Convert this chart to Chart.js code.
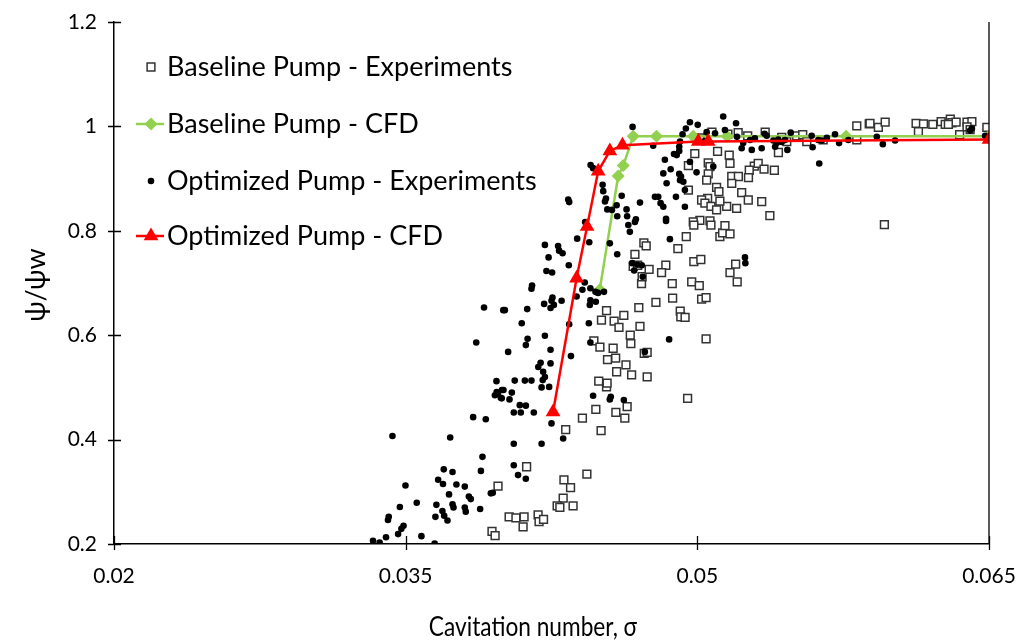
<!DOCTYPE html>
<html>
<head>
<meta charset="utf-8">
<script src="https://cdn.jsdelivr.net/npm/chart.js@4.4.0/dist/chart.umd.min.js"></script>
<style>
  html, body { margin: 0; padding: 0; background: #fff; }
  #wrap { width: 1019px; height: 644px; }
</style>
</head>
<body>
<div id="wrap"><canvas id="chart" width="1019" height="644"></canvas></div>
<script>
// ---- data ----
const xTickValues = [0.02, 0.035, 0.05, 0.065];
const xTickLabels = ['0.02', '0.035', '0.05', '0.065'];
const yTickValues = [0.2, 0.4, 0.6, 0.8, 1.0, 1.2];
const yTickLabels = ['0.2', '0.4', '0.6', '0.8', '1', '1.2'];

const seriesNames = [
  'Baseline Pump - Experiments',
  'Baseline Pump - CFD',
  'Optimized Pump - Experiments',
  'Optimized Pump - CFD'
];

// Baseline pump, experiments (open squares)
const baseExpSigma = [
  0.03975, 0.03944, 0.03960, 0.04493, 0.04533, 0.04478, 0.04581, 0.04627, 0.04639, 0.04409,
  0.04323, 0.04505, 0.04122, 0.04432, 0.04314, 0.04348, 0.04310, 0.04279, 0.04293, 0.04361,
  0.04032, 0.04067, 0.04109, 0.04104, 0.04181, 0.04186, 0.04209, 0.04679, 0.04725, 0.04670,
  0.04693, 0.04713, 0.04716, 0.04533, 0.04622, 0.04699, 0.04507, 0.04572, 0.04597, 0.04705,
  0.04655, 0.04658, 0.04468, 0.04499, 0.04567, 0.04538, 0.04580, 0.04633, 0.04585, 0.04662,
  0.04536, 0.04727, 0.05210, 0.05259, 0.04987, 0.05104, 0.05164, 0.05168, 0.05056, 0.05065,
  0.04954, 0.05293, 0.05313, 0.05267, 0.05177, 0.05211, 0.05263, 0.05177, 0.05056, 0.05048,
  0.05099, 0.05111, 0.04954, 0.05228, 0.05262, 0.05053, 0.05022, 0.05039, 0.05070, 0.05151,
  0.05202, 0.05116, 0.05099, 0.05013, 0.05065, 0.04979, 0.04982, 0.05070, 0.05116, 0.05130,
  0.05168, 0.05142, 0.04943, 0.04900, 0.04737, 0.04982, 0.05018, 0.04838, 0.04816, 0.04752,
  0.05197, 0.05168, 0.05205, 0.04871, 0.04971, 0.05010, 0.04873, 0.04787, 0.05022, 0.05045,
  0.04912, 0.04915, 0.04937, 0.05045, 0.04742, 0.04742, 0.04950, 0.05434, 0.05511, 0.05542,
  0.05563, 0.05460, 0.05417, 0.05647, 0.05820, 0.05884, 0.05931, 0.05820, 0.05343, 0.05396,
  0.05331, 0.05373, 0.05888, 0.05966, 0.06125, 0.06163, 0.06137, 0.06211, 0.06254, 0.06275,
  0.06301, 0.06309, 0.06331, 0.06291, 0.06349, 0.06387, 0.06412, 0.06387, 0.06403, 0.06489,
  0.05962, 0.05013, 0.05075, 0.05157, 0.05349
];
const baseExpPsi = [
  0.311, 0.224, 0.216, 0.512, 0.501, 0.458, 0.452, 0.441, 0.463, 0.441,
  0.419, 0.417, 0.348, 0.334, 0.323, 0.308, 0.288, 0.273, 0.270, 0.273,
  0.252, 0.250, 0.252, 0.233, 0.256, 0.243, 0.247, 0.755, 0.777, 0.732,
  0.734, 0.699, 0.712, 0.647, 0.638, 0.653, 0.629, 0.627, 0.615, 0.617,
  0.600, 0.584, 0.589, 0.577, 0.575, 0.553, 0.556, 0.543, 0.530, 0.524,
  0.508, 0.565, 0.988, 0.982, 0.948, 0.952, 0.945, 0.929, 0.930, 0.923,
  0.925, 0.924, 0.929, 0.916, 0.904, 0.904, 0.902, 0.891, 0.909, 0.897,
  0.883, 0.875, 0.878, 0.873, 0.859, 0.862, 0.859, 0.853, 0.847, 0.847,
  0.843, 0.857, 0.840, 0.820, 0.819, 0.817, 0.811, 0.811, 0.789, 0.796,
  0.794, 0.810, 0.789, 0.766, 0.771, 0.741, 0.745, 0.734, 0.720, 0.726,
  0.736, 0.720, 0.702, 0.699, 0.702, 0.695, 0.671, 0.663, 0.669, 0.672,
  0.646, 0.635, 0.634, 0.593, 0.567, 0.520, 0.479, 0.979, 0.982, 0.984,
  0.971, 0.971, 0.950, 0.974, 1.001, 1.005, 0.998, 0.974, 0.918, 0.916,
  0.856, 0.829, 1.006, 1.008, 1.006, 1.005, 0.990, 1.004, 1.009, 1.004,
  1.014, 1.007, 1.008, 1.004, 0.984, 1.008, 1.009, 0.999, 0.994, 0.998,
  0.812, 0.978, 0.989, 0.985, 0.989
];

// Baseline pump, CFD (green diamonds)
const baseCfdSigma = [0.04498, 0.04593, 0.04619, 0.04670, 0.04790, 0.04979, 0.05154, 0.05765, 0.065];
const baseCfdPsi = [0.687, 0.905, 0.925, 0.981, 0.981, 0.981, 0.981, 0.981, 0.981];

// Optimized pump, experiments (black dots)
const optExpSigma = [
  0.03967, 0.03968, 0.03974, 0.03959, 0.03989, 0.03995, 0.03847, 0.03912, 0.03432, 0.03729,
  0.03895, 0.03696, 0.03741, 0.03887, 0.03499, 0.03667, 0.03692, 0.03761, 0.03804, 0.03723,
  0.03825, 0.03835, 0.03938, 0.03948, 0.03557, 0.03470, 0.03658, 0.03741, 0.03746, 0.03804,
  0.03809, 0.03883, 0.03689, 0.03698, 0.03715, 0.03653, 0.03413, 0.03409, 0.03489, 0.03478,
  0.03461, 0.03581, 0.03399, 0.03332, 0.03366, 0.03649, 0.03903, 0.04002, 0.03863, 0.04061,
  0.04113, 0.04147, 0.04205, 0.04003, 0.03994, 0.04046, 0.04034, 0.04199, 0.04238, 0.04087,
  0.04118, 0.04056, 0.04092, 0.04159, 0.04250, 0.04310, 0.04056, 0.04199, 0.04056, 0.04078,
  0.04118, 0.04464, 0.04555, 0.04550, 0.04622, 0.04423, 0.04216, 0.04284, 0.04289, 0.04307,
  0.04382, 0.04444, 0.04235, 0.04339, 0.04550, 0.04588, 0.04224, 0.04253, 0.04150, 0.04147,
  0.04421, 0.04409, 0.04450, 0.04476, 0.04489, 0.04520, 0.04212, 0.04255, 0.04250, 0.04245,
  0.04262, 0.04302, 0.04379, 0.04450, 0.04447, 0.04478, 0.04010, 0.04125, 0.04097, 0.04341,
  0.04442, 0.04216, 0.04127, 0.04118, 0.04450, 0.04027, 0.04245, 0.04350, 0.04194, 0.04182,
  0.04207, 0.04216, 0.04245, 0.04645, 0.04653, 0.04679, 0.04665, 0.04675, 0.04691, 0.04667,
  0.04451, 0.04464, 0.04336, 0.04341, 0.04513, 0.04516, 0.04530, 0.04525, 0.04611, 0.04585,
  0.04537, 0.04561, 0.04636, 0.04639, 0.04588, 0.04684, 0.04705, 0.05133, 0.04962, 0.04941,
  0.04924, 0.05002, 0.05199, 0.05048, 0.04773, 0.04911, 0.04907, 0.04907, 0.04894, 0.04880,
  0.04833, 0.04962, 0.04863, 0.04825, 0.04907, 0.04916, 0.04911, 0.04928, 0.04996, 0.05082,
  0.04842, 0.04936, 0.04890, 0.04782, 0.04799, 0.04811, 0.04825, 0.04936, 0.04839, 0.05204,
  0.05236, 0.05271, 0.05296, 0.05228, 0.05280, 0.04839, 0.04859, 0.04714, 0.04719, 0.05245,
  0.05247, 0.04855, 0.04730, 0.05357, 0.05391, 0.05408, 0.05416, 0.05434, 0.05451, 0.05400,
  0.05480, 0.05463, 0.05331, 0.05588, 0.05622, 0.05640, 0.05666, 0.05593, 0.05627, 0.05708,
  0.05729, 0.05777, 0.05923, 0.05954, 0.06017, 0.06403, 0.06412, 0.06480, 0.05091, 0.05142,
  0.05038, 0.05346
];
const optExpPsi = [
  0.512, 0.491, 0.489, 0.485, 0.480, 0.495, 0.443, 0.439, 0.407, 0.404,
  0.367, 0.343, 0.338, 0.340, 0.312, 0.323, 0.315, 0.314, 0.310, 0.295,
  0.291, 0.286, 0.297, 0.298, 0.279, 0.271, 0.275, 0.276, 0.270, 0.270,
  0.262, 0.267, 0.263, 0.254, 0.245, 0.252, 0.252, 0.246, 0.235, 0.229,
  0.219, 0.215, 0.213, 0.206, 0.203, 0.201, 0.653, 0.648, 0.586, 0.513,
  0.513, 0.513, 0.514, 0.495, 0.479, 0.490, 0.477, 0.500, 0.501, 0.466,
  0.465, 0.452, 0.452, 0.452, 0.431, 0.402, 0.392, 0.392, 0.351, 0.332,
  0.325, 0.484, 0.482, 0.477, 0.476, 0.817, 0.773, 0.771, 0.762, 0.757,
  0.785, 0.778, 0.749, 0.734, 0.776, 0.755, 0.723, 0.720, 0.695, 0.689,
  0.701, 0.687, 0.690, 0.683, 0.681, 0.683, 0.660, 0.672, 0.666, 0.652,
  0.658, 0.666, 0.674, 0.667, 0.658, 0.664, 0.648, 0.650, 0.623, 0.621,
  0.623, 0.599, 0.593, 0.581, 0.586, 0.568, 0.572, 0.560, 0.547, 0.539,
  0.530, 0.520, 0.546, 0.811, 0.798, 0.817, 0.738, 0.724, 0.735, 0.999,
  0.926, 0.920, 0.860, 0.855, 0.888, 0.876, 0.862, 0.856, 0.867, 0.849,
  0.841, 0.840, 0.841, 0.828, 0.828, 0.822, 0.854, 1.019, 1.008, 0.996,
  0.985, 1.003, 1.006, 0.989, 0.963, 0.971, 0.961, 0.953, 0.945, 0.947,
  0.936, 0.932, 0.918, 0.910, 0.909, 0.904, 0.897, 0.894, 0.912, 0.923,
  0.891, 0.878, 0.865, 0.865, 0.865, 0.853, 0.846, 0.846, 0.823, 0.980,
  0.968, 0.974, 0.977, 0.958, 0.955, 0.819, 0.784, 0.734, 0.712, 0.749,
  0.738, 0.592, 0.568, 0.982, 0.973, 0.968, 0.975, 0.970, 0.974, 0.961,
  0.988, 0.955, 0.958, 0.982, 0.974, 0.973, 0.978, 0.960, 0.929, 0.985,
  0.968, 0.974, 0.980, 0.966, 0.973, 0.992, 0.996, 0.982, 0.987, 0.993,
  0.972, 0.986
];

// Optimized pump, CFD (red triangles)
const optCfdSigma = [0.04258, 0.04379, 0.04433, 0.04490, 0.04550, 0.04615, 0.05005, 0.05056, 0.065];
const optCfdPsi = [0.453, 0.709, 0.808, 0.914, 0.953, 0.964, 0.971, 0.971, 0.975];

// ---- helpers ----
const FONT = 'Lato, "Noto Sans", sans-serif';

function toPoints(xs, ys) {
  return xs.map((v, i) => ({ x: v, y: ys[i] }));
}

// tick marks that cross the axes, the right frame line, axis titles and the in-plot legend
const decorations = {
  id: 'decorations',
  afterDraw(chart) {
    const { ctx, chartArea: area, scales } = chart;
    const xs = scales.x;
    const ys = scales.y;
    ctx.save();

    ctx.strokeStyle = '#000';
    ctx.lineWidth = 1.3;
    ctx.beginPath();
    xTickValues.forEach((v) => {
      const px = Math.round(xs.getPixelForValue(v)) + 0.5;
      ctx.moveTo(px, area.bottom - 8);
      ctx.lineTo(px, area.bottom + 6);
    });
    yTickValues.forEach((v) => {
      const py = Math.round(ys.getPixelForValue(v)) + 0.5;
      ctx.moveTo(area.left - 6, py);
      ctx.lineTo(area.left + 7, py);
    });
    ctx.moveTo(area.right, area.top);
    ctx.lineTo(area.right, area.bottom);
    ctx.stroke();

    // axis titles (the original face is narrower than Lato, so squeeze it a bit)
    ctx.fillStyle = '#000';
    ctx.textAlign = 'center';
    ctx.textBaseline = 'middle';
    ctx.font = '27px ' + FONT;
    ctx.save();
    ctx.translate(533, 627);
    ctx.scale(0.84, 1);
    ctx.fillText('Cavitation number, σ', 0, 0);
    ctx.restore();
    ctx.save();
    ctx.translate(36, 285);
    ctx.rotate(-Math.PI / 2);
    ctx.fillText('ψ/ψw', 0, 0);
    ctx.restore();

    // legend
    const rows = [67, 124, 181, 236];
    ctx.font = '27px ' + FONT;
    ctx.textAlign = 'left';
    chart.data.datasets.forEach((ds, r) => {
      const y = rows[r];
      if (ds.showLine) {
        ctx.strokeStyle = ds.borderColor;
        ctx.lineWidth = ds.borderWidth;
        ctx.beginPath();
        ctx.moveTo(136, y);
        ctx.lineTo(164, y);
        ctx.stroke();
      }
      ctx.fillStyle = ds.pointBackgroundColor;
      ctx.strokeStyle = ds.pointBorderColor;
      ctx.lineWidth = ds.pointBorderWidth;
      Chart.helpers.drawPoint(ctx, {
        pointStyle: ds.pointStyle,
        radius: ds.pointRadius,
        rotation: 0,
        borderWidth: ds.pointBorderWidth
      }, 151, y);
      ctx.fillStyle = '#000';
      ctx.fillText(ds.label, 167, y);
    });

    ctx.restore();
  }
};

const ctx = document.getElementById('chart').getContext('2d');

new Chart(ctx, {
  type: 'scatter',
  data: {
    datasets: [
      {
        label: seriesNames[0],
        data: toPoints(baseExpSigma, baseExpPsi),
        showLine: false,
        pointStyle: 'rect',
        pointRadius: 5.5,
        pointBackgroundColor: '#ffffff',
        pointBorderColor: '#333333',
        pointBorderWidth: 1.5,
        order: 4
      },
      {
        label: seriesNames[1],
        data: toPoints(baseCfdSigma, baseCfdPsi),
        showLine: true,
        borderColor: '#92D050',
        borderWidth: 2.5,
        pointStyle: 'rectRot',
        pointRadius: 6.5,
        pointBackgroundColor: '#92D050',
        pointBorderColor: '#92D050',
        pointBorderWidth: 0,
        order: 3
      },
      {
        label: seriesNames[2],
        data: toPoints(optExpSigma, optExpPsi),
        showLine: false,
        pointStyle: 'circle',
        pointRadius: 3.3,
        pointBackgroundColor: '#000000',
        pointBorderColor: '#000000',
        pointBorderWidth: 0,
        order: 2
      },
      {
        label: seriesNames[3],
        data: toPoints(optCfdSigma, optCfdPsi),
        showLine: true,
        borderColor: '#FF0000',
        borderWidth: 2.5,
        pointStyle: 'triangle',
        pointRadius: 8.5,
        pointBackgroundColor: '#FF0000',
        pointBorderColor: '#FF0000',
        pointBorderWidth: 0,
        order: 1
      }
    ]
  },
  options: {
    responsive: false,
    animation: false,
    layout: { padding: { top: 22, right: 30, left: 0, bottom: 0 } },
    plugins: {
      legend: { display: false },
      tooltip: { enabled: false }
    },
    scales: {
      x: {
        type: 'linear',
        min: 0.02,
        max: 0.065,
        afterFit: (s) => { s.height = 100; s.paddingLeft = 0; s.paddingRight = 0; },
        afterBuildTicks: (s) => { s.ticks = xTickValues.map((v) => ({ value: v })); },
        grid: { display: false, drawTicks: true, tickLength: 8 },
        border: { display: true, color: '#000', width: 1.5 },
        ticks: {
          padding: 12,
          color: '#000',
          font: { family: FONT, size: 21 },
          maxRotation: 0,
          callback: (value, index) => xTickLabels[index]
        }
      },
      y: {
        type: 'linear',
        min: 0.2,
        max: 1.2,
        afterFit: (s) => { s.width = 114; s.paddingTop = 0; s.paddingBottom = 0; },
        afterBuildTicks: (s) => { s.ticks = yTickValues.map((v) => ({ value: v })); },
        grid: { display: false, drawTicks: true, tickLength: 8 },
        border: { display: true, color: '#000', width: 1.5 },
        ticks: {
          padding: 9,
          color: '#000',
          font: { family: FONT, size: 21 },
          callback: (value, index) => yTickLabels[index]
        }
      }
    }
  },
  plugins: [decorations]
});
</script>
</body>
</html>
